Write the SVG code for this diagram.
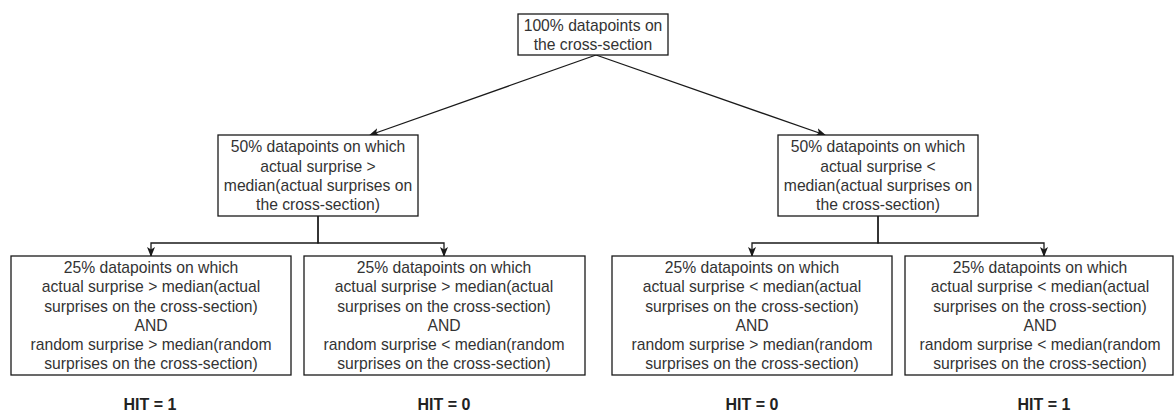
<svg xmlns="http://www.w3.org/2000/svg" width="1176" height="416" viewBox="0 0 1176 416">
<style>
.box{fill:#fff;stroke:#1a1a1a;stroke-width:1.3}
.t{font-family:"Liberation Sans",Arial,sans-serif;font-size:15.7px;fill:#333;text-anchor:middle}
.h{font-family:"Liberation Sans",Arial,sans-serif;font-size:16px;font-weight:bold;fill:#222;text-anchor:middle}
.c{fill:none;stroke:#1a1a1a;stroke-width:1.3}
</style>
<defs>
<marker id="arr" viewBox="0 0 10 8" refX="9" refY="4" markerWidth="10" markerHeight="8" markerUnits="userSpaceOnUse" orient="auto">
<path d="M0,0 L10,4 L0,8 L2.5,4 z" fill="#1a1a1a"/>
</marker>
</defs>
<rect width="1176" height="416" fill="#fff"/>
<g id="connectors">
<path class="c" d="M596,55 L370,135" marker-end="url(#arr)"/>
<path class="c" d="M596,55 L825,135" marker-end="url(#arr)"/>
<path class="c" d="M318,216 V243 H151 V256" marker-end="url(#arr)"/>
<path class="c" d="M318,216 V243 H444 V256" marker-end="url(#arr)"/>
<path class="c" d="M878,216 V243 H752 V256" marker-end="url(#arr)"/>
<path class="c" d="M878,216 V243 H1044 V256" marker-end="url(#arr)"/>
</g>
<g id="root">
<rect class="box" x="518" y="14" width="150" height="41"/>
<text class="t" x="593" y="30.6">100% datapoints on</text>
<text class="t" x="593" y="49.8">the cross-section</text>
</g>
<g id="midLeft">
<rect class="box" x="218" y="135" width="200" height="81"/>
<text class="t" x="318" y="152.4">50% datapoints on which</text>
<text class="t" x="318" y="171.6">actual surprise &gt;</text>
<text class="t" x="318" y="190.8">median(actual surprises on</text>
<text class="t" x="318" y="210">the cross-section)</text>
</g>
<g id="midRight">
<rect class="box" x="778" y="135" width="200" height="81"/>
<text class="t" x="878" y="152.4">50% datapoints on which</text>
<text class="t" x="878" y="171.6">actual surprise &lt;</text>
<text class="t" x="878" y="190.8">median(actual surprises on</text>
<text class="t" x="878" y="210">the cross-section)</text>
</g>
<g id="leaf1">
<rect class="box" x="11" y="256" width="280" height="119"/>
<text class="t" x="151" y="273.2">25% datapoints on which</text>
<text class="t" x="151" y="292.4">actual surprise &gt; median(actual</text>
<text class="t" x="151" y="311.6">surprises on the cross-section)</text>
<text class="t" x="151" y="330.8">AND</text>
<text class="t" x="151" y="350">random surprise &gt; median(random</text>
<text class="t" x="151" y="369.2">surprises on the cross-section)</text>
</g>
<g id="leaf2">
<rect class="box" x="304" y="256" width="281" height="119"/>
<text class="t" x="444" y="273.2">25% datapoints on which</text>
<text class="t" x="444" y="292.4">actual surprise &gt; median(actual</text>
<text class="t" x="444" y="311.6">surprises on the cross-section)</text>
<text class="t" x="444" y="330.8">AND</text>
<text class="t" x="444" y="350">random surprise &lt; median(random</text>
<text class="t" x="444" y="369.2">surprises on the cross-section)</text>
</g>
<g id="leaf3">
<rect class="box" x="612" y="256" width="280" height="119"/>
<text class="t" x="752" y="273.2">25% datapoints on which</text>
<text class="t" x="752" y="292.4">actual surprise &lt; median(actual</text>
<text class="t" x="752" y="311.6">surprises on the cross-section)</text>
<text class="t" x="752" y="330.8">AND</text>
<text class="t" x="752" y="350">random surprise &gt; median(random</text>
<text class="t" x="752" y="369.2">surprises on the cross-section)</text>
</g>
<g id="leaf4">
<rect class="box" x="905" y="256" width="268" height="119"/>
<text class="t" x="1040" y="273.2">25% datapoints on which</text>
<text class="t" x="1040" y="292.4">actual surprise &lt; median(actual</text>
<text class="t" x="1040" y="311.6">surprises on the cross-section)</text>
<text class="t" x="1040" y="330.8">AND</text>
<text class="t" x="1040" y="350">random surprise &lt; median(random</text>
<text class="t" x="1040" y="369.2">surprises on the cross-section)</text>
</g>
<g id="labels">
<text class="h" x="150" y="410">HIT = 1</text>
<text class="h" x="444" y="410">HIT = 0</text>
<text class="h" x="752" y="410">HIT = 0</text>
<text class="h" x="1044" y="410">HIT = 1</text>
</g>
</svg>
